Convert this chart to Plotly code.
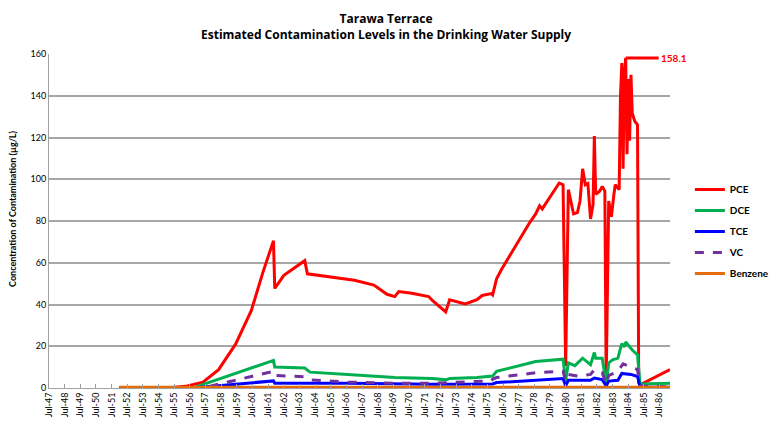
import plotly.graph_objects as go

# ---------------- data ----------------
pce_dates = ["1952-01", "1955-06", "1956-05", "1957-05", "1958-05", "1959-06", "1960-06",
             "1961-03", "1961-11", "1961-12", "1962-07", "1963-11", "1964-01", "1966-08",
             "1967-01", "1968-04", "1969-02", "1969-08", "1969-11", "1970-09", "1971-10",
             "1972-01", "1972-11", "1973-02", "1974-02", "1974-11", "1975-03", "1975-10",
             "1975-11", "1976-02", "1976-06", "1978-03", "1978-08", "1978-11", "1979-01",
             "1980-02", "1980-05", "1980-07", "1980-09", "1981-01", "1981-04", "1981-06",
             "1981-08", "1981-10", "1981-12", "1982-02", "1982-04", "1982-05", "1982-06",
             "1982-09", "1982-11", "1983-01", "1983-02", "1983-04", "1983-06", "1983-08",
             "1983-09", "1983-12", "1984-01", "1984-02", "1984-03", "1984-04", "1984-05",
             "1984-06", "1984-07", "1984-08", "1984-09", "1984-10", "1984-11", "1984-12",
             "1985-01", "1985-02", "1985-03", "1985-04", "1987-03"]
pce_vals = [0, 0.2, 1.0, 2.8, 8.8, 21, 37,
            55.5, 70.5, 47.7, 54, 61, 54.7, 52.3,
            51.6, 49.3, 44.9, 43.8, 46.2, 45.4, 43.8,
            41.8, 36.5, 42.3, 40.3, 42.3, 44.3, 45.2,
            44.6, 52.3, 57, 78.8, 83.4, 87.3, 85.8,
            98.2, 97.4, 10.4, 95, 83.4, 84, 89.6,
            105, 97.4, 98, 81, 88, 120.7, 92.8,
            94.3, 96.6, 94.3, 4, 89.6, 82, 92.8,
            97.4, 95, 140, 155.7, 105, 150, 158.1,
            112, 148, 118.4, 150, 131.6, 129, 127.7,
            127, 126, 2.5, 1.5, 8.8]

dce_dates = ["1952-01", "1956-10", "1961-11", "1961-12", "1963-11", "1964-03", "1966-08",
             "1969-08", "1972-01", "1972-11", "1973-02", "1974-11", "1975-11", "1976-02",
             "1978-08", "1980-05", "1980-07", "1980-09", "1981-02", "1981-08", "1982-02",
             "1982-05", "1982-06", "1982-11", "1983-02", "1983-04", "1983-07", "1983-11",
             "1984-02", "1984-04", "1984-05", "1984-10", "1985-02", "1985-04", "1987-03"]
dce_vals = [0, 0.2, 13.2, 10.1, 9.6, 7.6, 6.5,
            5.0, 4.5, 3.9, 4.5, 5.0, 5.7, 8.0,
            12.7, 13.8, 3.4, 12.0, 10.7, 14.3, 11.2,
            17.0, 14.3, 14.3, 1.9, 12.0, 13.5, 14.3,
            21.3, 19.7, 22.0, 18.2, 15.9, 1.9, 2.3]

tce_dates = ["1952-01", "1957-01", "1961-11", "1961-12", "1966-08", "1969-08", "1972-01",
             "1975-11", "1976-02", "1980-05", "1980-07", "1980-09", "1982-02", "1982-05",
             "1982-11", "1983-02", "1983-04", "1983-11", "1984-02", "1984-09", "1985-02",
             "1985-04", "1987-03"]
tce_vals = [0, 0.2, 3.4, 2.3, 2.3, 2.0, 1.8,
            1.9, 2.6, 4.5, 1.0, 3.7, 3.7, 4.8,
            4.0, 1.0, 3.3, 3.7, 7.0, 6.5, 5.5,
            0.5, 0.3]

vc_dates = ["1952-01", "1957-06", "1961-11", "1961-12", "1963-11", "1964-04", "1966-08",
            "1969-08", "1972-01", "1975-10", "1975-11", "1976-02", "1978-08", "1980-05",
            "1980-07", "1980-09", "1981-04", "1982-02", "1982-05", "1982-11", "1983-02",
            "1983-04", "1983-11", "1984-03", "1984-09", "1985-02", "1985-04", "1987-03"]
vc_vals = [0, 0.2, 8.0, 6.0, 5.4, 3.9, 2.9,
           2.3, 2.3, 3.4, 4.2, 5.0, 7.3, 8.0,
           3.4, 6.5, 5.7, 6.5, 8.8, 7.3, 1.9,
           6.0, 8.0, 11.6, 10.1, 8.8, 1.0, 0.5]

benzene_dates = ["1952-01", "1987-03"]
benzene_vals = [0.3, 0.3]

series_names = ["PCE", "DCE", "TCE", "VC", "Benzene"]
series_colors = ["#FF0000", "#00B050", "#0000FF", "#7030A0", "#E46C0A"]

title_lines = ["Tarawa Terrace", "Estimated Contamination Levels in the Drinking Water Supply"]
y_title = "Concentration of Contamination (µg/L)"

# ---------------- figure ----------------
fig = go.Figure()
all_series = [(pce_dates, pce_vals), (dce_dates, dce_vals), (tce_dates, tce_vals),
              (vc_dates, vc_vals), (benzene_dates, benzene_vals)]
for (d, v), name, col in zip(all_series, series_names, series_colors):
    fig.add_trace(go.Scatter(
        x=d, y=v, name=name, mode="lines", legendgroup=name,
        line=dict(color=col, width=3, dash="dash" if name == "VC" else "solid"),
    ))

# max annotation for PCE
imax = max(range(len(pce_vals)), key=lambda i: pce_vals[i])
fig.add_annotation(
    x=pce_dates[imax], y=pce_vals[imax], text=f"<b>{pce_vals[imax]:.1f}</b>",
    showarrow=True, arrowhead=0, arrowwidth=3, arrowcolor="#FF0000",
    ax=33, ay=0, xanchor="left", standoff=0, startstandoff=0,
    font=dict(color="#FF0000", size=10, family="Lato"),
)

# two-line title, top-anchored at the page top
fig.add_annotation(
    xref="paper", yref="paper", x=0.542, y=1.134, xanchor="center", yanchor="top",
    text="<b>" + title_lines[0] + "<br>" + title_lines[1] + "</b>", showarrow=False,
    borderpad=0, font=dict(size=12, family="Open Sans", color="black"),
)

# y-axis title as a rotated annotation
fig.add_annotation(
    xref="paper", yref="paper", x=-0.058, y=0.536, xanchor="center", yanchor="middle",
    text="<b>" + y_title + "</b>", textangle=-90, showarrow=False,
    font=dict(size=9, family="Lato", color="black"),
)

fig.update_layout(
    width=778, height=421,
    margin=dict(l=41, r=95, t=46, b=32),
    paper_bgcolor="white", plot_bgcolor="white",
    font=dict(family="Lato", size=9, color="black"),
    showlegend=True,
    legend=dict(x=1.032, xanchor="left", y=0.638, yanchor="top",
                font=dict(size=10, family="Lato", color="black", weight="bold"),
                traceorder="grouped", tracegroupgap=2, bgcolor="rgba(0,0,0,0)"),
)

fig.update_xaxes(
    type="date", range=["1947-07-01", "1987-03-01"],
    tick0="1947-07-01", dtick="M12", tickformat="%b-%y", tickangle=-90,
    ticks="inside", ticklen=4, tickcolor="#A0A0A0",
    showline=True, linecolor="#A0A0A0", linewidth=1,
    showgrid=False, zeroline=False, tickfont=dict(size=9),
)
fig.update_yaxes(
    range=[0, 160], dtick=20, showgrid=True, gridcolor="#A6A6A6", gridwidth=1.5,
    showline=True, linecolor="#A0A0A0", linewidth=1, zeroline=False,
    tickfont=dict(size=9),
)

fig.write_html("out.html")
